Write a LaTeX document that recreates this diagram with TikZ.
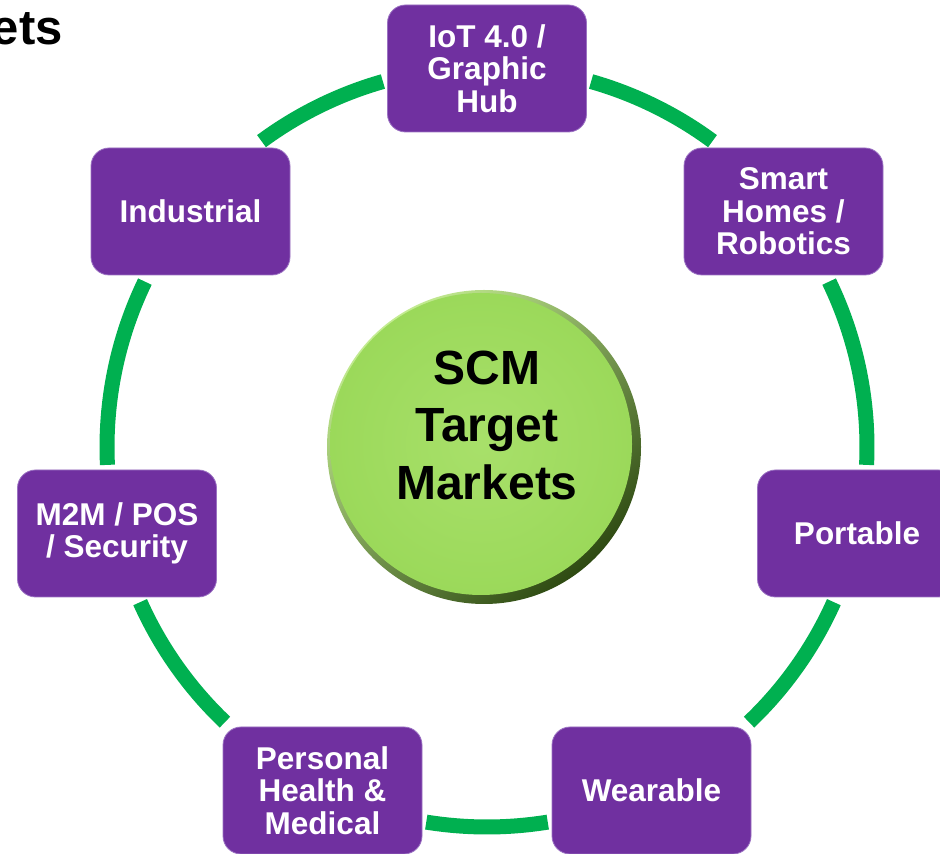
\documentclass[tikz,border=0pt]{standalone}
\usepackage{fontspec}
\setmainfont{Liberation Sans}
\usetikzlibrary{shadings}
\definecolor{mktpurple}{HTML}{7030A0}
\definecolor{mktedge}{HTML}{9B72C2}
\definecolor{ringgreen}{HTML}{00B050}
\definecolor{facegreen}{HTML}{9BD95A}
\definecolor{facelight}{HTML}{A8E06A}
\definecolor{rimlight}{HTML}{C4EC92}
\definecolor{rimdark}{HTML}{2E4A12}
\tikzset{
  market/.style={draw=mktedge, line width=0.8pt, fill=mktpurple, rounded corners=18pt,
    minimum width=199pt, minimum height=127pt, inner sep=0pt, align=center,
    text=white, font=\bfseries\fontsize{31.5}{32.5}\selectfont},
  ringarc/.style={draw=ringgreen, line width=15pt, line cap=butt},
}
\begin{document}
\begin{tikzpicture}[x=1pt,y=1pt]
\useasboundingbox (0,0) rectangle (940,854);

% title fragment at the upper left
\node[anchor=base east, inner sep=0pt, font=\bfseries\fontsize{49}{58}\selectfont] (title) at (63,809) {ets};

% green ring split into arcs between the market boxes
\coordinate (ring) at (487,407);
\draw[ringarc] (ring) ++(53.6:380) arc[start angle=53.6, end angle=74.1, radius=380];
\draw[ringarc] (ring) ++(105.9:380) arc[start angle=105.9, end angle=126.4, radius=380];
\draw[ringarc] (ring) ++(154.2:380) arc[start angle=154.2, end angle=182.7, radius=380];
\draw[ringarc] (ring) ++(204.1:380) arc[start angle=204.1, end angle=226.4, radius=380];
\draw[ringarc] (ring) ++(260.8:380) arc[start angle=260.8, end angle=279.2, radius=380];
\draw[ringarc] (ring) ++(313.6:380) arc[start angle=313.6, end angle=335.9, radius=380];
\draw[ringarc] (ring) ++(-2.7:380) arc[start angle=-2.7, end angle=25.8, radius=380];

% bevelled hub disc
\coordinate (core) at (484,407);
\shade[top color=rimlight, bottom color=rimdark, shading angle=40] (core) circle[radius=157];
\shade[inner color=facelight, outer color=facegreen] ([shift={(-3,3)}]core) circle[radius=151];
\node[align=center, font=\bfseries\fontsize{48}{57.5}\selectfont, text=black] (hub) at (487,429) {SCM\\Target\\Markets};

% market boxes
\node[market] (iot)  at (487,785.5) {IoT 4.0 /\\Graphic\\Hub};
\node[market] (home) at (783.5,642.5) {Smart\\Homes /\\Robotics};
\node[market] (port) at (857,320.5) {Portable};
\node[market] (wear) at (651.5,63.5) {Wearable};
\node[market] (med)  at (322.5,63.5) {Personal\\Health \&\\Medical};
\node[market] (m2m)  at (117,320.5) {M2M / POS\\/ Security};
\node[market] (ind)  at (190.5,642.5) {Industrial};
\end{tikzpicture}
\end{document}
